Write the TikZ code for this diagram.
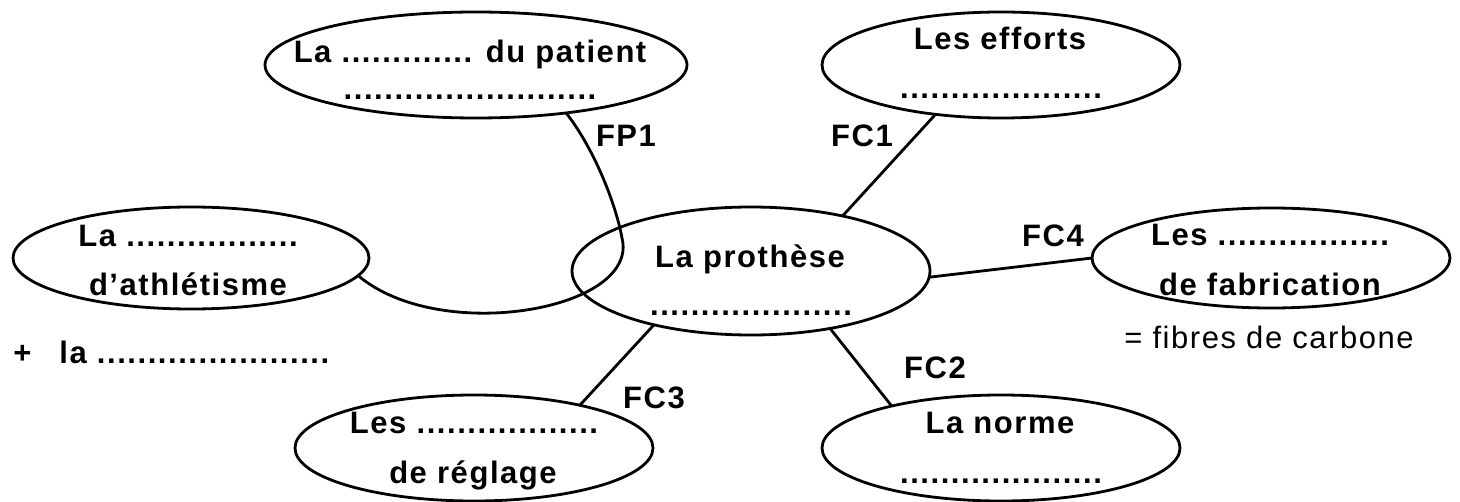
\documentclass[tikz,border=0pt]{standalone}
\usepackage{fontspec}
\setmainfont{Liberation Sans}[LetterSpace=5]
\usetikzlibrary{shapes.geometric}
\begin{document}
\begin{tikzpicture}[x=0.5pt,y=-0.5pt,
  oval/.style={draw, ellipse, line width=1.4pt, inner sep=0pt, outer sep=0pt},
  txt/.style={anchor=base, inner sep=0pt, font=\fontsize{15.5}{18}\selectfont\bfseries},
  plain/.style={anchor=base, inner sep=0pt, font=\fontsize{15.5}{18}\selectfont},
  link/.style={line width=1.4pt}]
\useasboundingbox (0,0) rectangle (1460,502);
% ellipses
\node[oval, minimum width=211pt, minimum height=53pt] (A) at (476,65) {};
\node[oval, minimum width=179pt, minimum height=53pt] (B) at (1001,65) {};
\node[oval, minimum width=178pt, minimum height=51pt] (C) at (191,258) {};
\node[oval, minimum width=179pt, minimum height=64pt] (D) at (751,271) {};
\node[oval, minimum width=179pt, minimum height=50pt] (E) at (1271,258) {};
\node[oval, minimum width=179pt, minimum height=53pt] (F) at (474,448) {};
\node[oval, minimum width=179pt, minimum height=53pt] (G) at (1001,448) {};
% texts
\node[txt] (a1) at (470,63) {La ............. du patient};
\node[txt] (a2) at (470,100) {.........................};
\node[txt] (b1) at (1000,50) {Les efforts};
\node[txt] (b2) at (1001,99) {....................};
\node[txt] (c1) at (188,247) {La .................};
\node[txt] (c2) at (188,295) {d’athlétisme};
\node[txt] (d1) at (750,267) {La prothèse};
\node[txt] (d2) at (751,315) {....................};
\node[txt] (e1) at (1270,245) {Les .................};
\node[txt] (e2) at (1270,295) {de fabrication};
\node[plain] (e3) at (1269,348) {= fibres de carbone};
\node[txt] (f1) at (474,433) {Les ..................};
\node[txt] (f2) at (473,483) {de réglage};
\node[txt] (g1) at (1000,433) {La norme};
\node[txt] (g2) at (1001,483) {....................};
\node[txt, anchor=base west] (plus) at (13,363) {+\hspace{0.9em}la .......................};
% labels
\node[txt] (fp1) at (626,147) {FP1};
\node[txt] (fc1) at (862,147) {FC1};
\node[txt] (fc4) at (1053,247) {FC4};
\node[txt] (fc3) at (654,408) {FC3};
\node[txt] (fc2) at (935,378) {FC2};
% connectors
\coordinate (bend) at (622,238);
\draw[link] (C.-6) .. controls (440,345) and (640,310) .. (bend)
                   .. controls (616,205) and (595,150) .. (A.-28);
\draw[link] (B.217) -- (D.31);
\draw[link] (D.-2) -- (E.180.6);
\draw[link] (D.209) -- (F.22);
\draw[link] (D.-36) -- (G.159);
\end{tikzpicture}
\end{document}
